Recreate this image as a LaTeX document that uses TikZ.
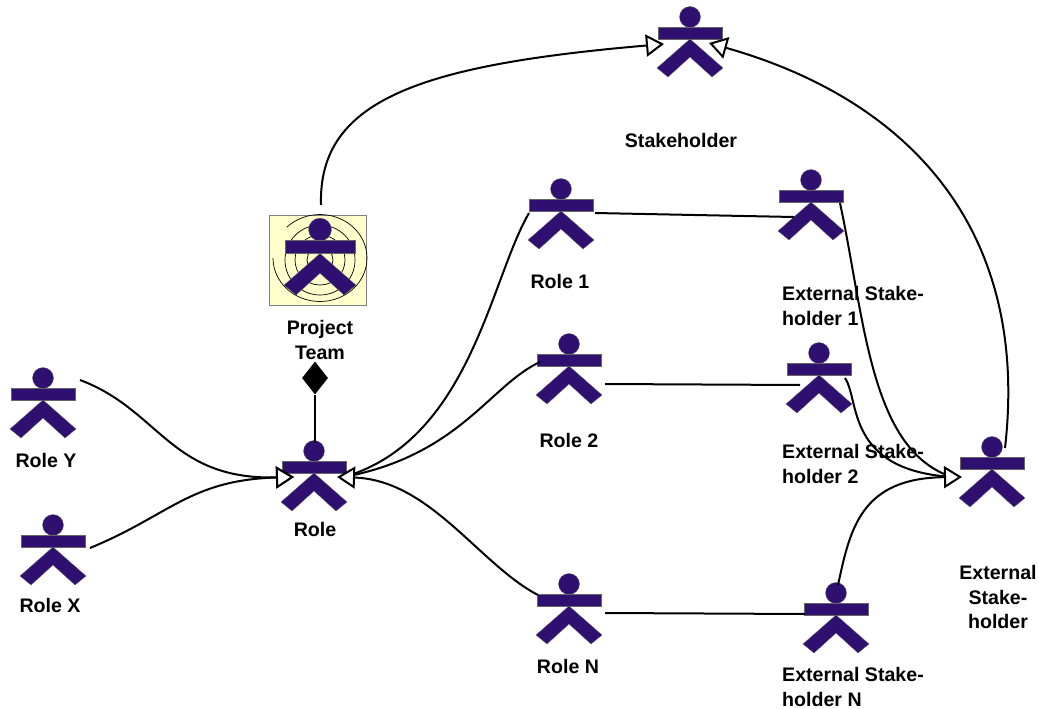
\documentclass[tikz,border=0pt]{standalone}
\usepackage{fontspec}
\setmainfont{Liberation Sans}
\usetikzlibrary{arrows.meta,shapes.geometric}
\definecolor{actorblue}{HTML}{2F0F6F}
\definecolor{teamyellow}{HTML}{FFFFCC}
\begin{document}
\begin{tikzpicture}[x=1pt,y=-1pt]
		\tikzset{figure/.pic = {
			\fill[actorblue,draw=black!60,line width=.3pt] (0,-16) circle (10.5);
			\fill[actorblue,draw=black!60,line width=.3pt] (-32,-6) rectangle (32,6);
			\fill[actorblue,draw=black!60,line width=.3pt] (0,6) -- (33,35) -- (22,44) -- (0,24) -- (-22,44) -- (-33,35) -- cycle;
		}}
		\tikzset{actor/.style = {shape=rectangle,inner sep=0pt,minimum width=66pt,minimum height=92pt}}
		\tikzset{caption/.style = {align=center,inner sep=0pt,font=\fontsize{19.6}{24.5}\selectfont\bfseries}}
		\tikzset{link/.style = {draw,line width=2pt}}
		\tikzset{isa/.style = {link,-{Triangle[open,fill=white,length=18pt,width=22pt,line width=2pt]}}}
		\useasboundingbox (0,0) rectangle (1039,709);
		% project team backdrop
		\node[draw=black!50,fill=teamyellow,minimum width=97pt,minimum height=90pt,inner sep=0pt] (backdrop) at (317.5,260) {};
		\draw[black,line width=.7pt] (273,258) arc (180:-135:47 and 43.5);
		\draw[black,line width=.7pt] (320,260) circle (35);
		\draw[black,line width=.7pt] (320,260) circle (25);
		\draw[black,line width=.7pt] (320,260) circle (13);
		% actors
		\node[actor] (stakeholder) at (690,33) {};
		\node[actor,minimum width=72pt,minimum height=100pt] (team) at (320,247) {};
		\node[actor] (role) at (314,467) {};
		\node[actor] (roley) at (43,394) {};
		\node[actor] (rolex) at (53,541) {};
		\node[actor] (roleone) at (561,205) {};
		\node[actor] (roletwo) at (569,360) {};
		\node[actor] (rolen) at (569,600) {};
		\node[actor] (extone) at (811,196) {};
		\node[actor] (exttwo) at (819,369) {};
		\node[actor] (extn) at (836,609) {};
		\node[actor] (external) at (992,463) {};
		\foreach \p in {stakeholder,role,roley,rolex,roleone,roletwo,rolen,extone,exttwo,extn,external}
			\pic at (\p) {figure};
		\pic[scale=1.09] at (team) {figure};
		% aggregation
		\node[diamond,fill=black,inner sep=0pt,minimum width=26pt,minimum height=33pt] (whole) at (315,378) {};
		\path[link] (whole) -- ([shift={(1,-24)}]role.center);
		% generalisation
		\path[isa] ([shift={(1,-42)}]team.center) .. controls (318,100) and (420,65) .. ([shift={(-26,11)}]stakeholder.center);
		\path[isa] ([shift={(13,-15)}]external.center) .. controls (1030,230) and (910,100) .. ([shift={(19,10)}]stakeholder.center);
		\path[isa] ([shift={(37,-14)}]roley.center) .. controls (160,410) and (170,480) .. ([shift={(-20,10)}]role.center);
		\path[isa] ([shift={(37,7)}]rolex.center) .. controls (170,515) and (190,480) .. ([shift={(-20,10)}]role.center);
		\path[link] ([shift={(-32,8)}]roleone.center) .. controls (490,280) and (470,440) .. ([shift={(30,10)}]role.center);
		\path[link] ([shift={(-29,2)}]roletwo.center) .. controls (490,385) and (460,455) .. ([shift={(30,10)}]role.center);
		\path[isa] ([shift={(-31,-5)}]rolen.center) .. controls (480,565) and (430,480) .. ([shift={(23,10)}]role.center);
		\path[link] ([shift={(29,7)}]extone.center) .. controls (865,320) and (870,450) .. ([shift={(-40,14)}]external.center);
		\path[link] ([shift={(26,9)}]exttwo.center) .. controls (860,400) and (845,470) .. ([shift={(-40,14)}]external.center);
		\path[isa] ([shift={(2,-24)}]extn.center) .. controls (850,530) and (860,478) .. ([shift={(-30,14)}]external.center);
		% associations
		\path[link] ([shift={(34,8)}]roleone.center) -- ([shift={(-17,21)}]extone.center);
		\path[link] ([shift={(36,24)}]roletwo.center) -- ([shift={(-19,16)}]exttwo.center);
		\path[link] ([shift={(36,13)}]rolen.center) -- ([shift={(-31,5)}]extn.center);
		% captions
		\node[caption] (stakeholdertext) at (681,140) {Stakeholder};
		\node[caption] (teamtext) at (320,340) {Project\\Team};
		\node[caption] (roletext) at (315,529) {Role};
		\node[caption] (roleytext) at (46,460) {Role Y};
		\node[caption] (rolextext) at (50,605) {Role X};
		\node[caption] (roleonetext) at (560,281) {Role 1};
		\node[caption] (roletwotext) at (569,440) {Role 2};
		\node[caption] (rolentext) at (568,666) {Role N};
		\node[caption,align=left] (extonetext) at (853,306) {External Stake-\\holder 1};
		\node[caption,align=left] (exttwotext) at (853,464) {External Stake-\\holder 2};
		\node[caption,align=left] (extntext) at (853,687) {External Stake-\\holder N};
		\node[caption] (externaltext) at (998,597) {External\\Stake-\\holder};
	\end{tikzpicture}
\end{document}
